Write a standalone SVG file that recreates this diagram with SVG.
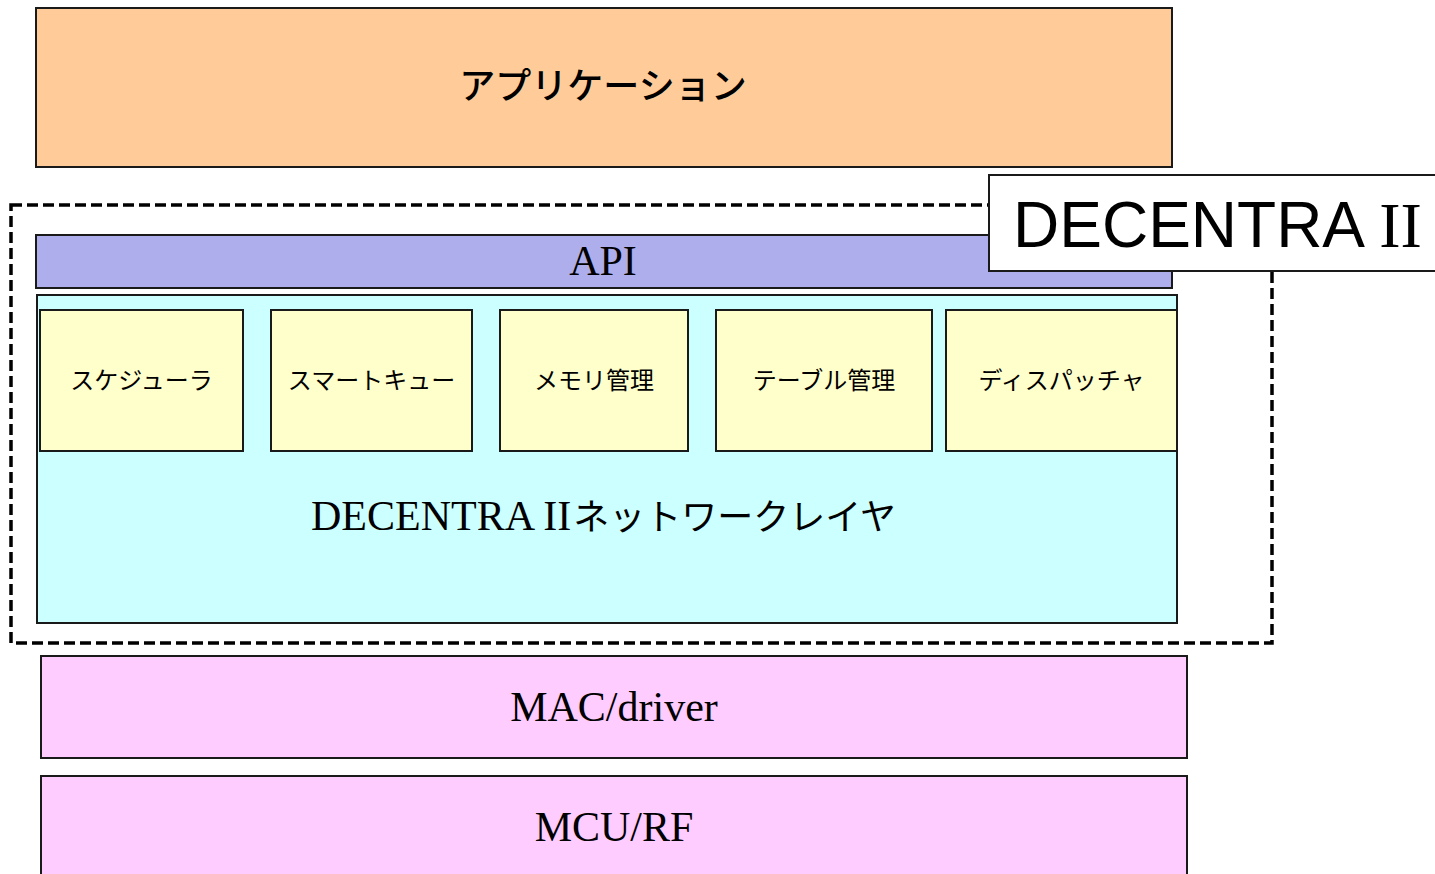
<svg xmlns="http://www.w3.org/2000/svg" width="1435" height="874" viewBox="0 0 1435 874">
<style>
.box{stroke:#1a1a1a;stroke-width:2}
.jp{font-family:"Noto Sans CJK JP","Noto Sans",sans-serif;fill:#000}
.serif{font-family:"Liberation Serif","Noto Sans CJK JP",serif;fill:#000}
.mod{fill:#FFFFCC}
.modt{font-size:24px;text-anchor:middle}
</style>
<rect width="1435" height="874" fill="#fff"/>
<g id="application">
<rect class="box" x="36" y="8" width="1136" height="159" fill="#FFCC99"/>
<text class="jp" x="603" y="99" font-size="36" font-weight="500" text-anchor="middle">アプリケーション</text>
</g>
<g id="decentra-frame">
<rect x="11" y="205" width="1261" height="438" fill="none" stroke="#000" stroke-width="3.5" stroke-dasharray="11 5"/>
</g>
<g id="api">
<rect class="box" x="36" y="235" width="1136" height="53" fill="#AEAEEC"/>
<text class="serif" x="603" y="275" font-size="42" text-anchor="middle">API</text>
</g>
<g id="network-layer">
<rect class="box" x="37" y="295" width="1140" height="328" fill="#CCFFFF"/>
<text class="serif" x="311" y="530" font-size="42">DECENTRA II<tspan class="jp" font-size="36" dx="2">ネットワークレイヤ</tspan></text>
</g>
<g id="scheduler">
<rect class="box mod" x="40" y="310" width="203" height="141"/>
<text class="jp modt" x="141.5" y="389">スケジューラ</text>
</g>
<g id="smart-queue">
<rect class="box mod" x="271" y="310" width="201" height="141"/>
<text class="jp modt" x="371.5" y="389">スマートキュー</text>
</g>
<g id="memory">
<rect class="box mod" x="500" y="310" width="188" height="141"/>
<text class="jp modt" x="594" y="389">メモリ管理</text>
</g>
<g id="table">
<rect class="box mod" x="716" y="310" width="216" height="141"/>
<text class="jp modt" x="824" y="389">テーブル管理</text>
</g>
<g id="dispatcher">
<rect class="box mod" x="946" y="310" width="231" height="141"/>
<text class="jp modt" x="1061.5" y="389">ディスパッチャ</text>
</g>
<g id="decentra-label">
<rect x="989" y="175" width="460" height="96" fill="#fff" stroke="#1a1a1a" stroke-width="2"/>
<text x="1013" y="247" font-size="64" font-family="'Liberation Sans',sans-serif" fill="#000">DECENTRA <tspan font-family="'Liberation Serif',serif">II</tspan></text>
</g>
<g id="mac-driver">
<rect class="box" x="41" y="656" width="1146" height="102" fill="#FFCCFF"/>
<text class="serif" x="614" y="721" font-size="42" text-anchor="middle">MAC/driver</text>
</g>
<g id="mcu-rf">
<rect class="box" x="41" y="776" width="1146" height="110" fill="#FFCCFF"/>
<text class="serif" x="614" y="841" font-size="42" text-anchor="middle">MCU/RF</text>
</g>
<g id="connectors"></g>
</svg>
